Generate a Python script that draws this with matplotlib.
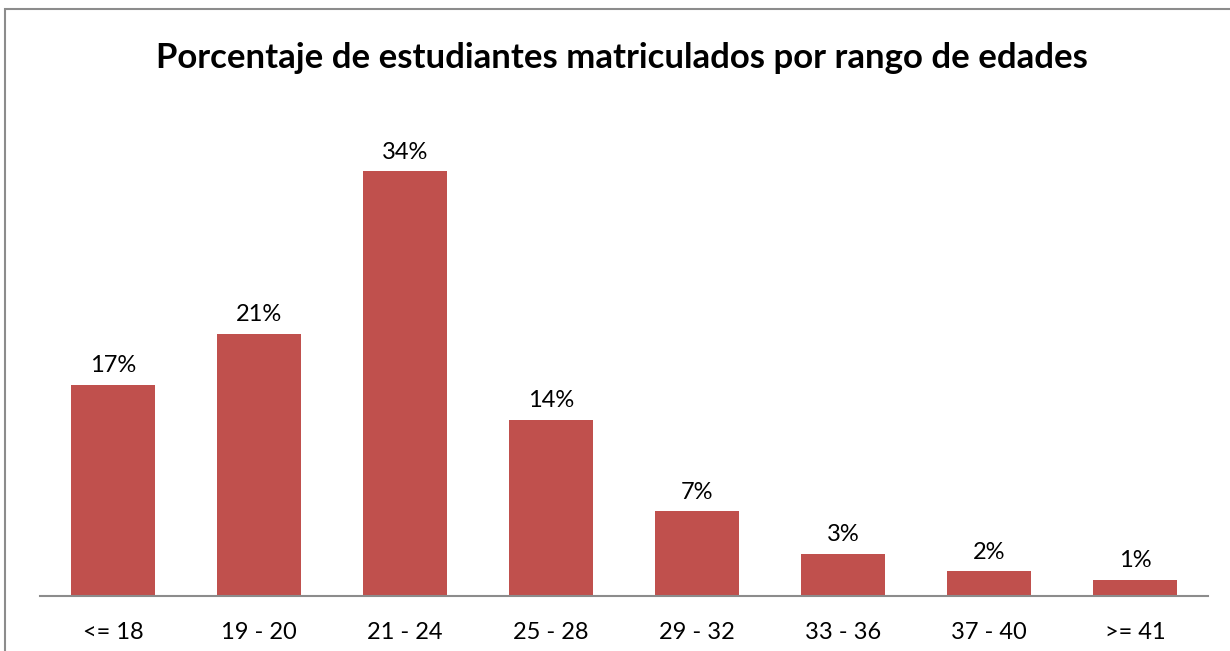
import matplotlib
matplotlib.use("Agg")
import matplotlib.pyplot as plt
from matplotlib.patches import Rectangle

categories = ["<= 18", "19 - 20", "21 - 24", "25 - 28", "29 - 32", "33 - 36", "37 - 40", ">= 41"]
values = [16.9, 21.0, 34.0, 14.1, 6.8, 3.4, 2.0, 1.3]
labels = ["17%", "21%", "34%", "14%", "7%", "3%", "2%", "1%"]
title = "Porcentaje de estudiantes matriculados por rango de edades"

W, H = 1230, 651
fig = plt.figure(figsize=(W / 100, H / 100), dpi=100)
plt.rcParams['font.family'] = ['Lato', 'DejaVu Sans']

# outer chart frame (cut on right and bottom)
fig.patches.append(Rectangle((5 / W, -0.1), 1.2, (H - 9) / H + 0.1,
                             transform=fig.transFigure, fill=False,
                             edgecolor='#8c8c8c', linewidth=1.5))

x0, x1 = 40, 1208
ybase, ytop = 596, 96
ax = fig.add_axes([x0 / W, (H - ybase) / H, (x1 - x0) / W, (ybase - ytop) / H])
ax.set_facecolor('none')
pos = list(range(len(categories)))
ax.bar(pos, values, width=0.575, color='#C0504D', zorder=2)
for p, v, l in zip(pos, values, labels):
    ax.annotate(l, (p, v), xytext=(0, 6), textcoords='offset points',
                ha='center', va='bottom', fontsize=17, color='black')
ax.set_xlim(-0.5, len(categories) - 0.5)
ax.set_ylim(0, 40)
ax.set_xticks(pos)
ax.set_xticklabels(categories, fontsize=17)
ax.tick_params(axis='x', length=0, pad=19)
ax.set_yticks([])
for s in ['top', 'right', 'left']:
    ax.spines[s].set_visible(False)
ax.spines['bottom'].set_color('#8c8c8c')
ax.spines['bottom'].set_linewidth(1.5)

fig.text(622 / W, 1 - 58 / H, title, ha='center', va='center',
         fontsize=25, fontweight='bold', color='black')

fig.savefig("out.png", dpi=100)
